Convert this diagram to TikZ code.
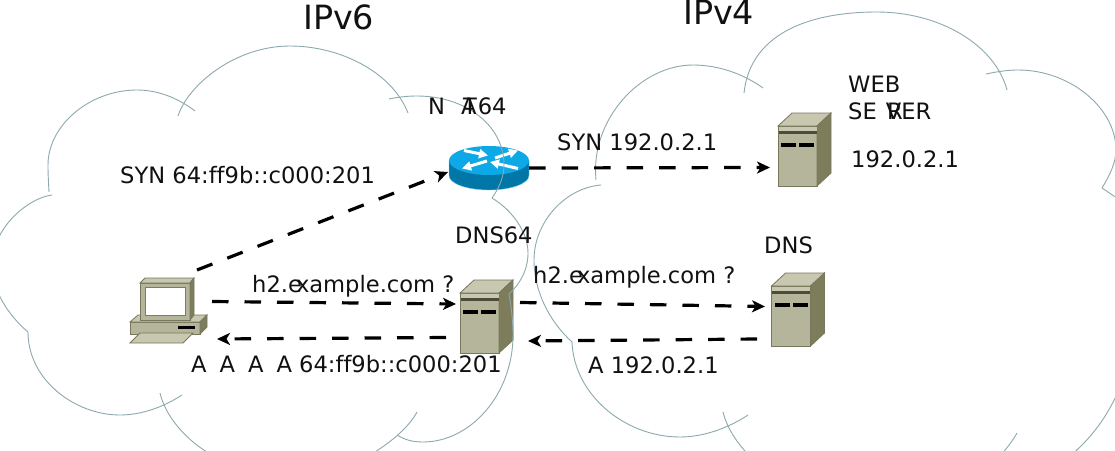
\documentclass[tikz,border=0pt]{standalone}
\usepackage{fontspec}
\setmainfont[Ligatures=NoCommon]{DejaVu Sans}
\usetikzlibrary{arrows.meta}
\definecolor{cloudline}{HTML}{8DA9AE}
\definecolor{inkc}{HTML}{111111}
\definecolor{srvfront}{HTML}{B5B59B}
\definecolor{srvtop}{HTML}{C8C8B0}
\definecolor{srvside}{HTML}{7D7D5C}
\definecolor{srvedge}{HTML}{77775C}
\definecolor{srvdark}{HTML}{4C4C38}
\definecolor{rttop}{HTML}{0DA8E6}
\definecolor{rtside}{HTML}{0077A6}
\tikzset{
  x=1pt,y=-1pt,
  cloudarc/.style={draw=cloudline,line width=0.9pt},
  flow/.style={line width=3.2pt,draw=black,dash pattern=on 16.5pt off 16pt,-{Stealth[length=13pt,width=12pt,inset=3.5pt]}},
  lbl/.style={anchor=base west,inner sep=0pt,text=inkc,font=\fontsize{22.6}{27}\selectfont},
  big/.style={anchor=base west,inner sep=0pt,text=inkc,font=\fontsize{33.4}{40}\selectfont},
  server icon/.pic={
    \fill[srvfront,draw=srvedge,line width=0.8pt] (0,0) rectangle (39,60);
    \fill[srvtop,draw=srvedge,line width=0.8pt] (0,0) -- (14,-13) -- (53,-13) -- (39,0) -- cycle;
    \fill[srvside,draw=srvedge,line width=0.8pt] (39,0) -- (53,-13) -- (53,47) -- (39,60) -- cycle;
    \fill[srvtop] (0.5,0.5) rectangle (38.5,5);
    \fill[srvdark] (0.5,5) rectangle (38.5,8);
    \fill[black] (3,17) rectangle (18,21);
    \fill[black] (21,17) rectangle (36,21);
  },
  pc icon/.pic={
    \fill[srvfront,draw=srvedge,line width=0.8pt] (130,322) rectangle (200,334);
    \fill[srvtop,draw=srvedge,line width=0.8pt] (130,322) -- (138,315) -- (207,315) -- (200,322) -- cycle;
    \fill[srvside,draw=srvedge,line width=0.8pt] (200,322) -- (207,315) -- (207,327) -- (200,334) -- cycle;
    \fill[black] (178,326) rectangle (195,329);
    \fill[srvtop,draw=srvedge,line width=0.8pt] (130,343) -- (140,333) -- (193,333) -- (183,343) -- cycle;
    \fill[srvdark] (140,318) rectangle (190,321);
    \fill[srvfront,draw=srvedge,line width=0.8pt] (140,283) rectangle (190,320);
    \fill[srvtop,draw=srvedge,line width=0.8pt] (140,283) -- (145,278) -- (194,278) -- (190,283) -- cycle;
    \fill[srvside,draw=srvedge,line width=0.8pt] (190,283) -- (194,278) -- (194,315) -- (190,320) -- cycle;
    \fill[white,draw=srvside,line width=0.8pt] (145,287) rectangle (185,315);
  },
  router icon/.pic={
    \fill[rtside,draw=rttop!60!white,line width=0.4pt] (-40,0) -- (-40,15) arc[start angle=180,end angle=360,x radius=40,y radius=-14.5] -- (40,0) -- cycle;
    \fill[rttop] (0,0) ellipse[x radius=40,y radius=14.5];
    \draw[white,line width=3pt,-{Triangle[length=9pt,width=9pt]}] (-25,-10) -- (-1,-5);
    \draw[white,line width=3pt,-{Triangle[length=9pt,width=9pt]}] (6,-2.5) -- (29,-10);
    \draw[white,line width=3pt,-{Triangle[length=9pt,width=9pt]}] (-2,0.5) -- (-27,8);
    \draw[white,line width=3pt,-{Triangle[length=9pt,width=9pt]}] (29,8) -- (1,1.5);
  }
}
\begin{document}
\begin{tikzpicture}
\useasboundingbox (0,0) rectangle (1115,450);
\fill[white] (0,0) rectangle (1115,450);
\clip (0,0) rectangle (1115,450);

% icons
\pic at (0,0) {pc icon};
\pic at (489,160.5) {router icon};
\pic at (460,293) {server icon};
\pic at (778,126) {server icon};
\pic at (771.5,286) {server icon};

% clouds: IPv6
\draw[cloudarc] (52,195) .. controls (28,198) and (-8,228) .. (-8,265) .. controls (-8,290) and (8,315) .. (28,332);
\draw[cloudarc] (28,332) .. controls (28,380) and (75,415) .. (120,415) .. controls (143,415) and (165,406) .. (182,395);
\draw[cloudarc] (160,393) .. controls (165,415) and (185,440) .. (212,455);
\draw[cloudarc] (417,412) .. controls (410,425) and (395,440) .. (370,455);
\draw[cloudarc] (509,294) .. controls (512,310) and (513,325) .. (513,335) .. controls (513,395) and (470,442) .. (423,442) .. controls (413,442) and (405,440) .. (397,435);
\draw[cloudarc] (492,198) .. controls (512,210) and (528,232) .. (528,253) .. controls (528,270) and (520,284) .. (509,294);
\draw[cloudarc] (389,99) .. controls (398,97) and (408,96) .. (417,96) .. controls (465,96) and (504,125) .. (504,165) .. controls (504,177) and (499,188) .. (492,198);
\draw[cloudarc] (178,116) .. controls (188,85) and (235,46) .. (290,46) .. controls (340,46) and (392,72) .. (408,113);
\draw[cloudarc] (49,192) .. controls (48.5,183) and (48,174) .. (48,165) .. controls (48,125) and (90,90) .. (137,90) .. controls (158,90) and (178,98) .. (195,111);
% clouds: IPv4
\draw[cloudarc] (601,185) .. controls (565,188) and (534,222) .. (534,260) .. controls (534,292) and (550,322) .. (572,342);
\draw[cloudarc] (572,342) .. controls (574,395) and (625,437) .. (680,437) .. controls (705,437) and (730,427) .. (748,415);
\draw[cloudarc] (723,412) .. controls (727,428) and (738,448) .. (765,470);
\draw[cloudarc] (1017,433) .. controls (1012,442) and (1004,452) .. (992,465);
\draw[cloudarc] (1125,375) .. controls (1112,410) and (1095,435) .. (1070,456);
\draw[cloudarc] (1102,188) .. controls (1108,192) and (1115,197) .. (1125,203);
\draw[cloudarc] (986,74) .. controls (1000,71) and (1010,70) .. (1018,70) .. controls (1070,70) and (1116,108) .. (1116,150) .. controls (1116,162) and (1110,175) .. (1102,188);
\draw[cloudarc] (744,93) .. controls (750,36) and (805,12) .. (877,12) .. controls (940,12) and (995,45) .. (1007,90);
\draw[cloudarc] (596,180) .. controls (590,120) and (640,65) .. (693,65) .. controls (720,65) and (745,75) .. (763,88);

% named connector ports
\coordinate (pcUp) at (197,270);
\coordinate (pcOut) at (212,301.5);
\coordinate (pcIn) at (217,339);
\coordinate (natIn) at (448,172);
\coordinate (natOut) at (529,168);
\coordinate (webIn) at (770,167.5);
\coordinate (d64In) at (456,304);
\coordinate (d64Back) at (446,337.5);
\coordinate (d64Out) at (520,302.5);
\coordinate (d64Rx) at (528,341);
\coordinate (dnsIn) at (765,306.5);
\coordinate (dnsOut) at (757,339);

\draw[flow] (pcUp) -- (natIn);
\draw[flow] (natOut) -- (webIn);
\draw[flow] (pcOut) -- (d64In);
\draw[flow] (d64Back) -- (pcIn);
\draw[flow] (d64Out) -- (dnsIn);
\draw[flow] (dnsOut) -- (d64Rx);

% labels
\node[big] (v6) at (303,29) {IPv6};
\node[big] (v4) at (683,24) {IPv4};
\node[lbl] (nat) at (428,114) {N\kern16pt A\kern-13.5pt T\kern1pt 64};
\node[lbl] (syn6) at (120,183) {SYN 64:ff9b::c000:201};
\node[lbl] (syn4) at (557,150) {SYN 192.0.2.1};
\node[lbl] (webn) at (848,92) {WEB};
\node[lbl] (webs) at (848,119) {SE\kern10.4pt R\kern-17pt VER};
\node[lbl] (webip) at (851,167) {192.0.2.1};
\node[lbl] (dns64) at (455,243) {DNS64};
\node[lbl] (dnsn) at (764,253) {DNS};
\node[lbl] (q1) at (252,292) {h2.e\kern-6pt xample.com ?};
\node[lbl] (q2) at (533,283) {h2.e\kern-6pt xample.com ?};
\node[lbl] (aaaa) at (191,372) {A\kern13pt A\kern13pt A\kern13pt A 64:ff9b::c000:201};
\node[lbl] (a4) at (588,373) {A 192.0.2.1};
\end{tikzpicture}
\end{document}
